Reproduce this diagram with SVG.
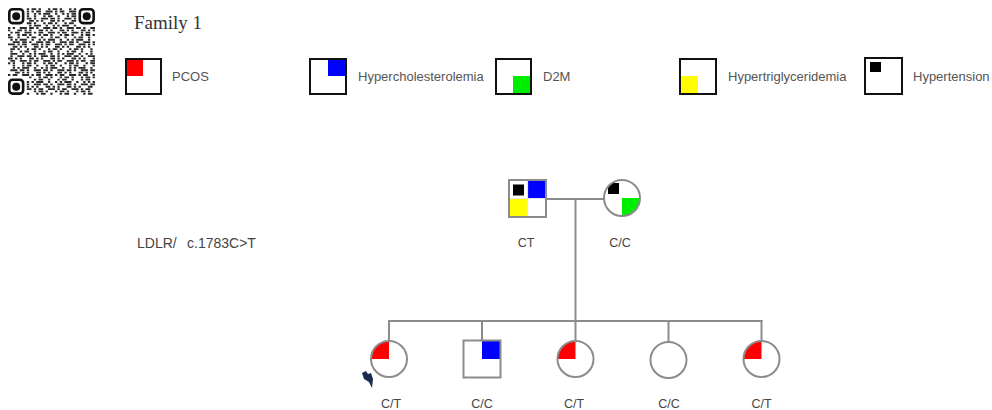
<svg xmlns="http://www.w3.org/2000/svg" width="992" height="410" viewBox="0 0 992 410">
  <style>
    .title{font-family:"Liberation Serif","Times New Roman",serif;font-size:19px;fill:#333}
    .lbl{font-family:"Liberation Sans",Arial,sans-serif;font-size:13px;fill:#555}
    .gene{font-family:"Liberation Sans",Arial,sans-serif;font-size:14px;fill:#444}
    .geno{font-family:"Liberation Sans",Arial,sans-serif;font-size:12.5px;fill:#444;text-anchor:middle}
    .key{fill:#fff;stroke:#111;stroke-width:2}
    .sym{fill:none;stroke:#8c8c8c;stroke-width:2}
    .ln{fill:none;stroke:#8c8c8c;stroke-width:2}
    .qr{fill:none;stroke:#2a2a2a;stroke-width:0.8}
    .qa{stroke-dasharray:1 1 2 1 1 3}
    .qb{stroke-dasharray:2 1 1 2 3 1}
    .qc{stroke-dasharray:1 2 1 1 1 1 3 2}
    .qd{stroke-dasharray:3 1 1 1 2 2}
    .qe{stroke-dasharray:1 3 2 1 1 1}
    .qf{stroke-dasharray:2 2 1 3 1 1}
    .red{fill:#f00}.blue{fill:#00f}.green{fill:#0e0}.yellow{fill:#ff0}.black{fill:#000}
  </style>
  <defs>
    <clipPath id="motherClip"><circle cx="622" cy="198" r="18"/></clipPath>
  </defs>

  <rect width="992" height="410" fill="#fff"/>

  <!-- QR code, module units (37 x 37) -->
  <g id="qrcode" transform="translate(8,8) scale(2.35)">
    <g class="qr">
      <path class="qa" d="M8 0.5H29"/>
      <path class="qd" d="M8 1.5H29" stroke-dashoffset="2"/>
      <path class="qc" d="M8 2.5H29"/>
      <path class="qf" d="M8 3.5H29" stroke-dashoffset="1"/>
      <path class="qb" d="M8 4.5H29"/>
      <path class="qe" d="M8 5.5H29" stroke-dashoffset="3"/>
      <path class="qa" d="M8 6.5H29" stroke-dashoffset="2"/>
      <path class="qc" d="M8 7.5H29" stroke-dashoffset="4"/>
      <path class="qb" d="M0 8.5H37" stroke-dashoffset="1"/>
      <path class="qe" d="M0 9.5H37"/>
      <path class="qd" d="M0 10.5H37" stroke-dashoffset="3"/>
      <path class="qa" d="M0 11.5H37" stroke-dashoffset="5"/>
      <path class="qf" d="M0 12.5H37"/>
      <path class="qc" d="M0 13.5H37" stroke-dashoffset="2"/>
      <path class="qb" d="M0 14.5H37" stroke-dashoffset="4"/>
      <path class="qd" d="M0 15.5H37"/>
      <path class="qe" d="M0 16.5H37" stroke-dashoffset="2"/>
      <path class="qa" d="M0 17.5H37" stroke-dashoffset="1"/>
      <path class="qf" d="M0 18.5H37" stroke-dashoffset="3"/>
      <path class="qc" d="M0 19.5H37" stroke-dashoffset="6"/>
      <path class="qb" d="M0 20.5H37" stroke-dashoffset="2"/>
      <path class="qe" d="M0 21.5H37" stroke-dashoffset="4"/>
      <path class="qd" d="M0 22.5H37" stroke-dashoffset="5"/>
      <path class="qa" d="M0 23.5H37" stroke-dashoffset="3"/>
      <path class="qf" d="M0 24.5H37" stroke-dashoffset="2"/>
      <path class="qc" d="M0 25.5H37" stroke-dashoffset="1"/>
      <path class="qb" d="M0 26.5H37" stroke-dashoffset="5"/>
      <path class="qe" d="M0 27.5H37" stroke-dashoffset="1"/>
      <path class="qd" d="M0 28.5H37" stroke-dashoffset="4"/>
      <path class="qa" d="M8 29.5H37" stroke-dashoffset="4"/>
      <path class="qf" d="M8 30.5H37" stroke-dashoffset="5"/>
      <path class="qc" d="M8 31.5H37" stroke-dashoffset="3"/>
      <path class="qb" d="M8 32.5H37" stroke-dashoffset="3"/>
      <path class="qe" d="M8 33.5H37" stroke-dashoffset="5"/>
      <path class="qd" d="M8 34.5H37" stroke-dashoffset="1"/>
      <path class="qa" d="M8 35.5H37" stroke-dashoffset="6"/>
      <path class="qf" d="M8 36.5H37" stroke-dashoffset="4"/>
    </g>
    <g fill="none" stroke="#111" stroke-width="1.1">
      <rect x="0.55" y="0.55" width="5.9" height="5.9" rx="1.4"/>
      <rect x="30.55" y="0.55" width="5.9" height="5.9" rx="1.4"/>
      <rect x="0.55" y="30.55" width="5.9" height="5.9" rx="1.4"/>
    </g>
    <g fill="#111">
      <circle cx="3.5" cy="3.5" r="1.7"/>
      <circle cx="33.5" cy="3.5" r="1.7"/>
      <circle cx="3.5" cy="33.5" r="1.7"/>
    </g>
  </g>

  <text class="title" x="134" y="29">Family 1</text>

  <!-- legend -->
  <g id="key-pcos">
    <rect class="key" x="126" y="59" width="35" height="35"/>
    <rect class="red" x="127" y="60" width="16" height="16"/>
    <text class="lbl" x="172" y="81">PCOS</text>
  </g>
  <g id="key-hypercholesterolemia">
    <rect class="key" x="310" y="59" width="36" height="35"/>
    <rect class="blue" x="328" y="60" width="17" height="16"/>
    <text class="lbl" x="358" y="81">Hypercholesterolemia</text>
  </g>
  <g id="key-d2m">
    <rect class="key" x="496" y="59" width="35" height="35"/>
    <rect class="green" x="513" y="76" width="17" height="17"/>
    <text class="lbl" x="543" y="81">D2M</text>
  </g>
  <g id="key-hypertriglyceridemia">
    <rect class="key" x="680" y="59" width="36" height="35"/>
    <rect class="yellow" x="681" y="76" width="17" height="17"/>
    <text class="lbl" x="728" y="81">Hypertriglyceridemia</text>
  </g>
  <g id="key-hypertension">
    <rect class="key" x="865" y="58" width="37" height="36"/>
    <rect class="black" x="870" y="62" width="11" height="10"/>
    <text class="lbl" x="913" y="81">Hypertension</text>
  </g>

  <text class="gene" x="137" y="248">LDLR/</text>
  <text class="gene" x="187" y="248">c.1783C&gt;T</text>

  <!-- connectors -->
  <g id="connectors">
    <path class="ln" d="M546 199H604"/>
    <path class="ln" d="M575.5 199V341"/>
    <path class="ln" d="M389 321H762.5"/>
    <path class="ln" d="M389 320V341"/>
    <path class="ln" d="M482 320V340"/>
    <path class="ln" d="M668.5 320V342"/>
    <path class="ln" d="M761.5 320V341"/>
  </g>

  <!-- parents -->
  <g id="father">
    <rect class="blue" x="527.5" y="180" width="18.5" height="18.5"/>
    <rect class="yellow" x="509" y="198.5" width="18.5" height="18.5"/>
    <rect class="black" x="513" y="184.5" width="11" height="11"/>
    <path d="M527.5 180V217M509 198.5H546" stroke="#e6e6e6" stroke-width="1.2"/>
    <rect class="sym" x="509" y="180" width="37" height="37"/>
    <text class="geno" x="526" y="247">CT</text>
  </g>
  <g id="mother">
    <circle cx="622" cy="198" r="18" fill="#fff"/>
    <g clip-path="url(#motherClip)">
      <rect class="black" x="608" y="183" width="11" height="11"/>
    </g>
    <path class="green" d="M622 198H640A18 18 0 0 1 622 216Z"/>
    <circle class="sym" cx="622" cy="198" r="18"/>
    <text class="geno" x="620" y="247">C/C</text>
  </g>

  <!-- offspring -->
  <g id="child1">
    <path class="red" d="M389 359V341A18 18 0 0 0 371 359Z"/>
    <circle class="sym" cx="389" cy="359" r="18"/>
    <polygon fill="#1b2a4e" points="362,373 366,371 368,374 371,373 373,379 372,388 369,382 364,379"/>
    <text class="geno" x="391" y="408">C/T</text>
  </g>
  <g id="child2">
    <rect class="blue" x="482" y="340.5" width="18.5" height="18.5"/>
    <rect class="sym" x="463.5" y="340.5" width="37" height="37"/>
    <text class="geno" x="482" y="408">C/C</text>
  </g>
  <g id="child3">
    <path class="red" d="M575.5 359V341A18 18 0 0 0 557.5 359Z"/>
    <circle class="sym" cx="575.5" cy="359" r="18"/>
    <text class="geno" x="574" y="408">C/T</text>
  </g>
  <g id="child4">
    <circle class="sym" cx="668.5" cy="360" r="18"/>
    <text class="geno" x="669" y="408">C/C</text>
  </g>
  <g id="child5">
    <path class="red" d="M761.5 359V341A18 18 0 0 0 743.5 359Z"/>
    <circle class="sym" cx="761.5" cy="359" r="18"/>
    <text class="geno" x="761.5" y="408">C/T</text>
  </g>
</svg>
